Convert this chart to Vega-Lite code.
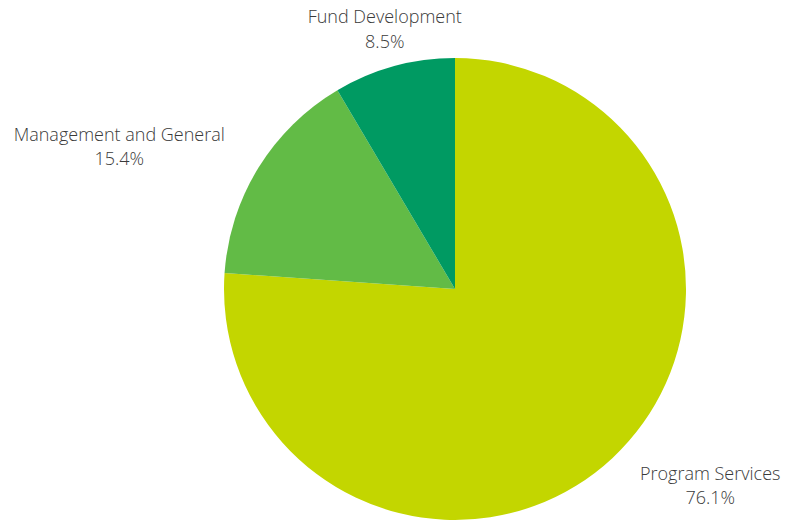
{
  "$schema": "https://vega.github.io/schema/vega-lite/v6.json",
  "width": 666,
  "height": 470,
  "autosize": {"type": "none"},
  "padding": {"left": 122, "top": 54, "right": 0, "bottom": 0},
  "background": "white",
  "config": {"view": {"stroke": null}},
  "data": {
    "values": [
      {"category": "Program Services", "value": 0.761},
      {"category": "Management and General", "value": 0.154},
      {"category": "Fund Development", "value": 0.085}
    ]
  },
  "encoding": {
    "theta": {"field": "value", "type": "quantitative", "stack": true},
    "order": {"field": "value", "sort": "descending"}
  },
  "layer": [
    {
      "mark": {"type": "arc", "outerRadius": 231},
      "encoding": {
        "color": {
          "field": "category",
          "type": "nominal",
          "scale": {
            "domain": ["Program Services", "Management and General", "Fund Development"],
            "range": ["#c3d600", "#62bb46", "#009a62"]
          },
          "legend": null
        }
      }
    },
    {
      "mark": {"type": "text", "radius": 270, "dx": 71, "dy": -11, "font": "Open Sans", "fontWeight": 300, "fontSize": 18, "fill": "#3a3a3a", "align": "center", "baseline": "middle"},
      "encoding": {"text": {"condition": {"test": "datum.category === 'Program Services'", "field": "category"}, "value": ""}}
    },
    {
      "mark": {"type": "text", "radius": 270, "dx": 71, "dy": 13, "font": "Open Sans", "fontWeight": 300, "fontSize": 18, "fill": "#3a3a3a", "align": "center", "baseline": "middle"},
      "encoding": {"text": {"condition": {"test": "datum.category === 'Program Services'", "field": "value", "format": ".1%"}, "value": ""}}
    },
    {
      "mark": {"type": "text", "radius": 270, "dx": -106, "dy": -11, "font": "Open Sans", "fontWeight": 300, "fontSize": 18, "fill": "#3a3a3a", "align": "center", "baseline": "middle"},
      "encoding": {"text": {"condition": {"test": "datum.category === 'Management and General'", "field": "category"}, "value": ""}}
    },
    {
      "mark": {"type": "text", "radius": 270, "dx": -106, "dy": 13, "font": "Open Sans", "fontWeight": 300, "fontSize": 18, "fill": "#3a3a3a", "align": "center", "baseline": "middle"},
      "encoding": {"text": {"condition": {"test": "datum.category === 'Management and General'", "field": "value", "format": ".1%"}, "value": ""}}
    },
    {
      "mark": {"type": "text", "radius": 270, "dx": 1, "dy": -11, "font": "Open Sans", "fontWeight": 300, "fontSize": 18, "fill": "#3a3a3a", "align": "center", "baseline": "middle"},
      "encoding": {"text": {"condition": {"test": "datum.category === 'Fund Development'", "field": "category"}, "value": ""}}
    },
    {
      "mark": {"type": "text", "radius": 270, "dx": 1, "dy": 14, "font": "Open Sans", "fontWeight": 300, "fontSize": 18, "fill": "#3a3a3a", "align": "center", "baseline": "middle"},
      "encoding": {"text": {"condition": {"test": "datum.category === 'Fund Development'", "field": "value", "format": ".1%"}, "value": ""}}
    }
  ]
}
